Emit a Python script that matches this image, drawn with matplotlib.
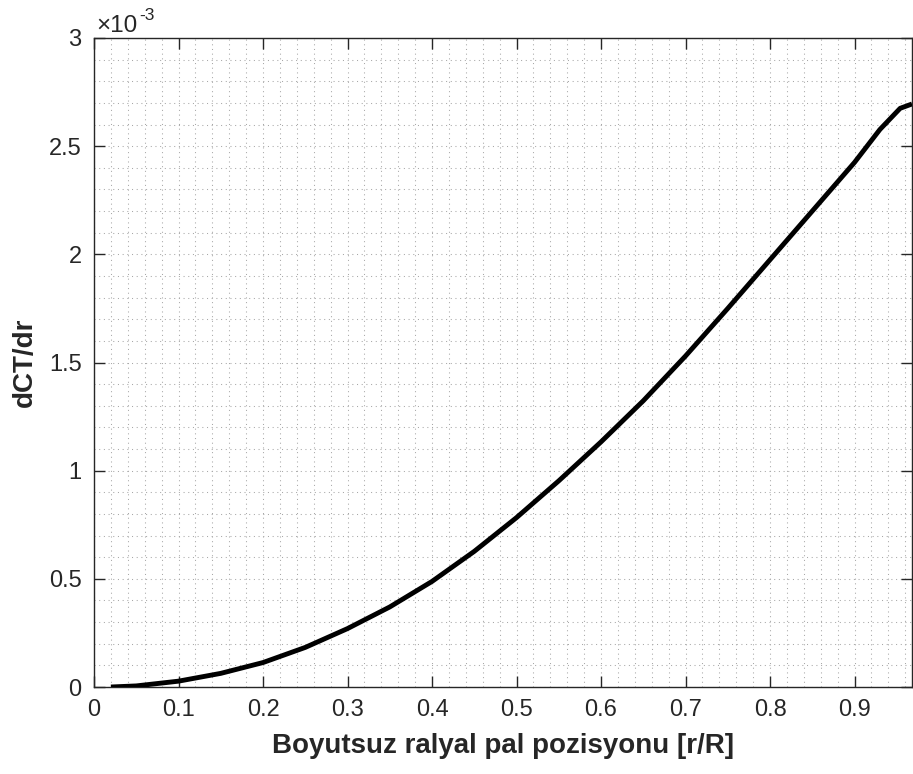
import matplotlib
matplotlib.use("Agg")
import matplotlib.pyplot as plt
from matplotlib.ticker import MultipleLocator, FuncFormatter

# Data (dCT/dr values in units of 1e-3)
r_R = [0.02, 0.05, 0.10, 0.15, 0.20, 0.25, 0.30, 0.35, 0.40, 0.45, 0.50,
       0.55, 0.60, 0.65, 0.70, 0.75, 0.80, 0.85, 0.90, 0.93, 0.954, 0.968]
dCT_dr_e3 = [0.0, 0.005, 0.027, 0.063, 0.113, 0.183, 0.270, 0.370, 0.488, 0.627, 0.783,
             0.953, 1.133, 1.323, 1.530, 1.750, 1.975, 2.200, 2.425, 2.577, 2.675, 2.695]
dCT_dr = [v * 1e-3 for v in dCT_dr_e3]

xticks = [0, 0.1, 0.2, 0.3, 0.4, 0.5, 0.6, 0.7, 0.8, 0.9]
yticks = [0, 0.5e-3, 1.0e-3, 1.5e-3, 2.0e-3, 2.5e-3, 3.0e-3]

plt.rcParams['font.family'] = ['Liberation Sans', 'DejaVu Sans']

W, H = 913, 774
fig = plt.figure(figsize=(W / 100, H / 100), dpi=100)
ax = fig.add_axes([94 / W, (H - 687) / H, (912 - 94) / W, (687 - 38) / H])

ax.plot(r_R, dCT_dr, color='black', linewidth=3.5, solid_capstyle='butt',
        solid_joinstyle='round', zorder=3)

ax.set_xlim(0, 0.968)
ax.set_ylim(0, 3e-3)
ax.set_xticks(xticks)
ax.set_yticks(yticks)
ax.xaxis.set_minor_locator(MultipleLocator(0.02))
ax.yaxis.set_minor_locator(MultipleLocator(0.1e-3))
ax.xaxis.set_major_formatter(FuncFormatter(lambda v, p: '%g' % round(v, 4)))
ax.yaxis.set_major_formatter(FuncFormatter(lambda v, p: '%g' % round(v * 1e3, 4)))

ax.grid(which='both', linestyle=(0, (1, 3.5)), color='#a8a8a8', linewidth=0.75)
ax.set_axisbelow(True)

edge = '#262626'
for s in ax.spines.values():
    s.set_color(edge)
    s.set_linewidth(1.0)

ax.tick_params(which='major', direction='in', length=8, width=1.0, color=edge,
               top=True, right=True, labelsize=17, labelcolor='#262626')
ax.tick_params(axis='x', which='major', pad=9)
ax.tick_params(axis='y', which='major', pad=9)
ax.tick_params(which='minor', length=0, top=True, right=True)

ax.set_xlabel('Boyutsuz ralyal pal pozisyonu [r/R]', fontsize=20, fontweight='bold',
              color='#262626', labelpad=8)
ax.set_ylabel('dCT/dr', fontsize=20, fontweight='bold', color='#262626', labelpad=8)

fig.text(96 / W, 1 - 32 / H, '\u00d710', fontsize=17.5, color='#262626',
         ha='left', va='baseline')
fig.text(139 / W, 1 - 20 / H, '-3', fontsize=12.5, color='#262626',
         ha='left', va='baseline')

fig.savefig('out.png', dpi=100)
